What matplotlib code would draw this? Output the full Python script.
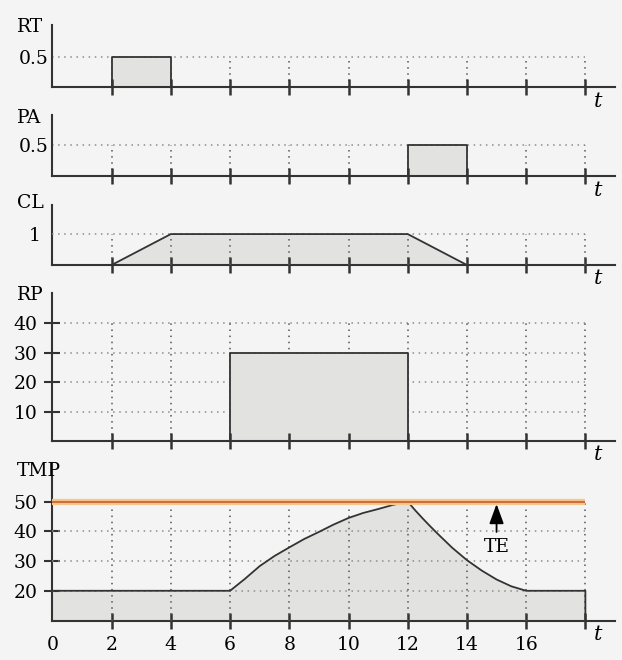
import matplotlib
matplotlib.use('Agg')
import matplotlib.pyplot as plt

W, H = 622, 660
BG = '#f4f4f4'
FILL = '#e2e3e1'
INK = '#333333'

plt.rcParams['font.family'] = ['DejaVu Serif']

# panel names, y-ranges and tick values
names = ['RT', 'PA', 'CL', 'RP', 'TMP']
ylims = [(0, 1.02), (0, 1.0), (0, 1.94), (0, 50.3), (10, 63)]
yticks = [[0.5], [0.5], [1], [10, 20, 30, 40], [20, 30, 40, 50]]
ytick_labels = [['0.5'], ['0.5'], ['1'], ['10', '20', '30', '40'], ['20', '30', '40', '50']]
hgrid = [[0.5], [0.5], [1], [10, 20, 30, 40], [20, 30, 40]]
vgrid_top = [0.5, 0.5, 1, 40, 50]

# signals
rt_t = [2, 2, 4, 4]
rt_v = [0, 0.5, 0.5, 0]
pa_t = [12, 12, 14, 14]
pa_v = [0, 0.5, 0.5, 0]
cl_t = [2, 4, 12, 14]
cl_v = [0, 1, 1, 0]
rp_t = [6, 6, 12, 12]
rp_v = [0, 30, 30, 0]
tmp_t = [0, 6, 6.5, 7, 7.5, 8, 8.5, 9, 9.5, 10, 10.5, 11, 11.5, 12,
         12.25, 12.5, 12.75, 13, 13.5, 14, 14.5, 15, 15.5, 16, 18, 18]
tmp_v = [20, 20, 24, 28.3, 31.7, 34.6, 37.4, 39.8, 42.3, 44.5, 46.2, 47.5, 48.9, 50,
         47.1, 44.4, 41.8, 39.3, 34.5, 30.3, 26.8, 23.8, 21.5, 20, 20, 10]
te_level = 50

t_ticks = [0, 2, 4, 6, 8, 10, 12, 14, 16, 18]
t_labels = ['0', '2', '4', '6', '8', '10', '12', '14', '16', '']

signals = [(rt_t, rt_v), (pa_t, pa_v), (cl_t, cl_v), (rp_t, rp_v), (tmp_t, tmp_v)]

# pixel boxes (top, bottom) of each panel
boxes = [(25, 87.3), (115, 176), (205, 265), (293, 441), (463, 620.5)]
left_px, right_px = 52.4, 615
label_y = [27.5, 118, 203.5, 294.5, 470.5]
ytick_len = [0, 0, 0, 12, 12]
ytick_pad = [3, 3, 8.5, 4.5, 4.5]
grid_on_top = [False, False, True, False, True]

fig = plt.figure(figsize=(W / 100, H / 100), dpi=100, facecolor=BG)

for i, name in enumerate(names):
    top, bottom = boxes[i]
    ax = fig.add_axes([left_px / W, 1 - bottom / H, (right_px - left_px) / W, (bottom - top) / H])
    ax.set_facecolor('none')
    ax.set_xlim(0, 19)
    ax.set_ylim(*ylims[i])
    for s in ['top', 'right']:
        ax.spines[s].set_visible(False)
    for s in ['left', 'bottom']:
        ax.spines[s].set_linewidth(1.5)
        ax.spines[s].set_color(INK)

    gz = 3 if grid_on_top[i] else 0.5
    ax.hlines(hgrid[i], 0, 18, colors='#8c8c8c', linestyles=(0, (1, 3)), lw=1.1, zorder=gz)
    ax.vlines(t_ticks[1:], ylims[i][0], vgrid_top[i], colors='#555555',
              linestyles=(0, (1, 3)), lw=1.1, zorder=gz)

    t, v = signals[i]
    base = ylims[i][0]
    ax.fill_between(t, v, base, color=FILL, lw=0, zorder=1)
    ax.plot(t, v, color=INK, lw=1.3, zorder=4, clip_on=False)

    if name == 'TMP':
        ax.plot([0, 18], [te_level, te_level], color='#f7c68c', lw=4.5, zorder=5, solid_capstyle='butt')
        ax.plot([0, 18], [te_level, te_level], color='#cd6d3a', lw=1.5, zorder=6, solid_capstyle='butt')
        ax.annotate('', xy=(15, 49.2), xytext=(15, 39.8),
                    arrowprops=dict(arrowstyle='-|>,head_length=0.6,head_width=0.22',
                                    color='black', lw=1.3, shrinkA=0, shrinkB=0,
                                    mutation_scale=20), zorder=7)
        ax.text(15, 34.6, 'TE', ha='center', va='center', fontsize=13.5)
        ax.set_xticks(t_ticks)
        ax.set_xticklabels(t_labels, fontsize=13.5)
        ax.xaxis.get_major_ticks()[0].tick1line.set_visible(False)
    else:
        ax.set_xticks(t_ticks[1:])
        ax.set_xticklabels([])

    ax.tick_params(axis='x', direction='inout', length=12, width=1.8, color=INK, pad=5)
    ax.set_yticks(yticks[i])
    ax.set_yticklabels(ytick_labels[i], fontsize=13.5)
    ax.tick_params(axis='y', direction='inout', length=ytick_len[i], width=1.5,
                   color=INK, pad=ytick_pad[i])

    fig.text(17 / W, 1 - label_y[i] / H, name, ha='left', va='center', fontsize=13.5)
    fig.text(598 / W, 1 - (bottom + 14) / H, 't', ha='center', va='center',
             fontsize=15, style='italic')

fig.savefig('out.png', dpi=100, facecolor=BG)
